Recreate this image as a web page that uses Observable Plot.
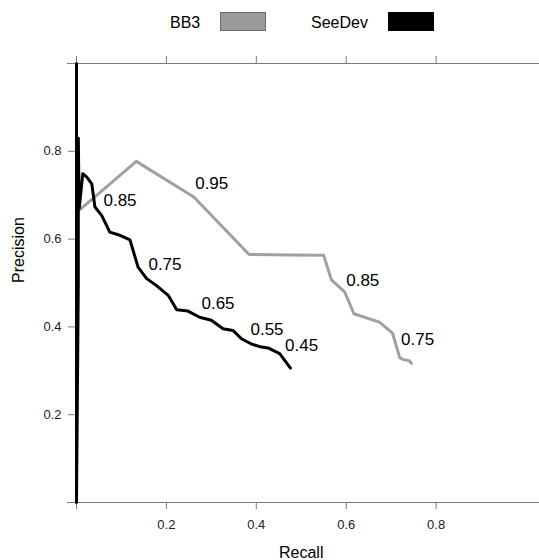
<!DOCTYPE html>
<html>
<head>
<meta charset="utf-8">
<script src="https://cdn.jsdelivr.net/npm/d3@7"></script>
<script src="https://cdn.jsdelivr.net/npm/@observablehq/plot@0.6"></script>
<style>
  body { margin: 0; background: #fff; font-family: "Liberation Sans", Arial, sans-serif; }
  #legend { position: relative; width: 539px; height: 40px; font-size: 16px; color: #000; }
  #legend .lab { position: absolute; top: 14px; height: 18px; line-height: 18px; white-space: nowrap; }
  #legend .box { position: absolute; top: 12px; width: 44px; height: 17px; }
</style>
</head>
<body>
<div id="legend"></div>
<div id="chart"></div>
<script>
// ---- data ----
const seriesNames = ["BB3", "SeeDev"];
const seriesColors = ["#a0a0a0", "#000000"];

const recallBB3 = [0.005, 0.133, 0.261, 0.384, 0.47, 0.55, 0.567, 0.597, 0.617, 0.674, 0.703, 0.719, 0.726, 0.740, 0.745];
const precisionBB3 = [0.665, 0.777, 0.696, 0.565, 0.564, 0.563, 0.507, 0.479, 0.430, 0.411, 0.386, 0.330, 0.326, 0.323, 0.317];

const recallSeeDev = [0, 0, 0.004, 0.004, 0.006, 0.014, 0.023, 0.034, 0.041, 0.056, 0.074, 0.093, 0.119, 0.137, 0.156, 0.178, 0.204, 0.223, 0.248, 0.274, 0.300, 0.326, 0.348, 0.367, 0.389, 0.408, 0.426, 0.452, 0.476];
const precisionSeeDev = [1, 0, 0.5, 0.83, 0.67, 0.749, 0.741, 0.726, 0.673, 0.654, 0.616, 0.610, 0.598, 0.536, 0.510, 0.494, 0.472, 0.439, 0.436, 0.422, 0.415, 0.396, 0.392, 0.373, 0.361, 0.355, 0.352, 0.339, 0.306];

// cutoff labels
const labelTextBB3 = ["0.95", "0.85", "0.75"];
const labelRecallBB3 = [0.264, 0.600, 0.722];
const labelPrecisionBB3 = [0.727, 0.506, 0.371];

const labelTextSeeDev = ["0.85", "0.75", "0.65", "0.55", "0.45"];
const labelRecallSeeDev = [0.060, 0.160, 0.278, 0.387, 0.464];
const labelPrecisionSeeDev = [0.688, 0.542, 0.453, 0.394, 0.358];

const xTicks = [0, 0.2, 0.4, 0.6, 0.8];
const yTicks = [0, 0.2, 0.4, 0.6, 0.8, 1];
const yTickLabels = ["", "0.2", "0.4", "0.6", "0.8", ""];
const xTickLabels = ["", "0.2", "0.4", "0.6", "0.8"];

// ---- build tables ----
const bb3 = recallBB3.map((r, i) => ({recall: r, precision: precisionBB3[i]}));
const seedev = recallSeeDev.map((r, i) => ({recall: r, precision: precisionSeeDev[i]}));
const labsBB3 = labelTextBB3.map((t, i) => ({t, recall: labelRecallBB3[i], precision: labelPrecisionBB3[i]}));
const labsSeeDev = labelTextSeeDev.map((t, i) => ({t, recall: labelRecallSeeDev[i], precision: labelPrecisionSeeDev[i]}));

// ---- legend ----
const legend = document.getElementById("legend");
const legendLayout = [{lab: 170, box: 220}, {lab: 311, box: 388}];
seriesNames.forEach((name, i) => {
  const l = document.createElement("span");
  l.className = "lab"; l.textContent = name; l.style.left = legendLayout[i].lab + "px";
  legend.appendChild(l);
  const b = document.createElement("span");
  b.className = "box"; b.style.left = legendLayout[i].box + "px";
  b.style.background = i === 0 ? "#9a9a9a" : "#000";
  b.style.border = "1px solid " + (i === 0 ? "#6a6a6a" : "#000");
  legend.appendChild(b);
});

const axisColor = "#7a7a7a";
const fmtX = d => xTickLabels[xTicks.indexOf(d)] ?? "";
const fmtY = d => yTickLabels[yTicks.indexOf(d)] ?? "";

const chart = Plot.plot({
  width: 539,
  height: 520,
  marginTop: 23,
  marginBottom: 58,
  marginLeft: 76,
  marginRight: 0,
  style: {fontFamily: "Liberation Sans, Arial, sans-serif", background: "#fff"},
  x: {domain: [0, 1.03]},
  y: {domain: [0, 1]},
  marks: [
    // axis lines
    Plot.ruleY([0, 1], {x1: -0.02, x2: 1.03, stroke: axisColor, strokeWidth: 1}),
    Plot.ruleX([0], {y1: 0, y2: 1, stroke: axisColor}),
    Plot.axisX({anchor: "bottom", ticks: xTicks, tickFormat: fmtX, tickSize: 7, tickPadding: 10,
      fontSize: 13, stroke: axisColor, fill: "#222", label: null}),
    Plot.axisX({anchor: "top", ticks: xTicks, tickFormat: () => "", tickSize: 8,
      stroke: axisColor, label: null}),
    Plot.axisY({anchor: "left", ticks: yTicks, tickFormat: fmtY, tickSize: 8, tickPadding: 7,
      fontSize: 13, stroke: axisColor, fill: "#222", label: null}),
    // curves
    Plot.line(bb3, {x: "recall", y: "precision", stroke: seriesColors[0], strokeWidth: 3, strokeLinejoin: "round"}),
    Plot.line(seedev, {x: "recall", y: "precision", stroke: seriesColors[1], strokeWidth: 3, strokeLinejoin: "round"}),
    // cutoff labels
    Plot.text(labsBB3, {x: "recall", y: "precision", text: "t", textAnchor: "start", lineAnchor: "middle", fontSize: 17, fill: "#000"}),
    Plot.text(labsSeeDev, {x: "recall", y: "precision", text: "t", textAnchor: "start", lineAnchor: "middle", fontSize: 17, fill: "#000"}),
    // axis titles
    Plot.text(["Recall"], {x: 0.5, frameAnchor: "bottom", dy: 50, lineAnchor: "middle", fontSize: 16, fill: "#000"}),
    Plot.text(["Precision"], {frameAnchor: "left", dx: -58, rotate: -90, lineAnchor: "middle", fontSize: 16, fill: "#000"})
  ]
});
document.getElementById("chart").appendChild(chart);
</script>
</body>
</html>
